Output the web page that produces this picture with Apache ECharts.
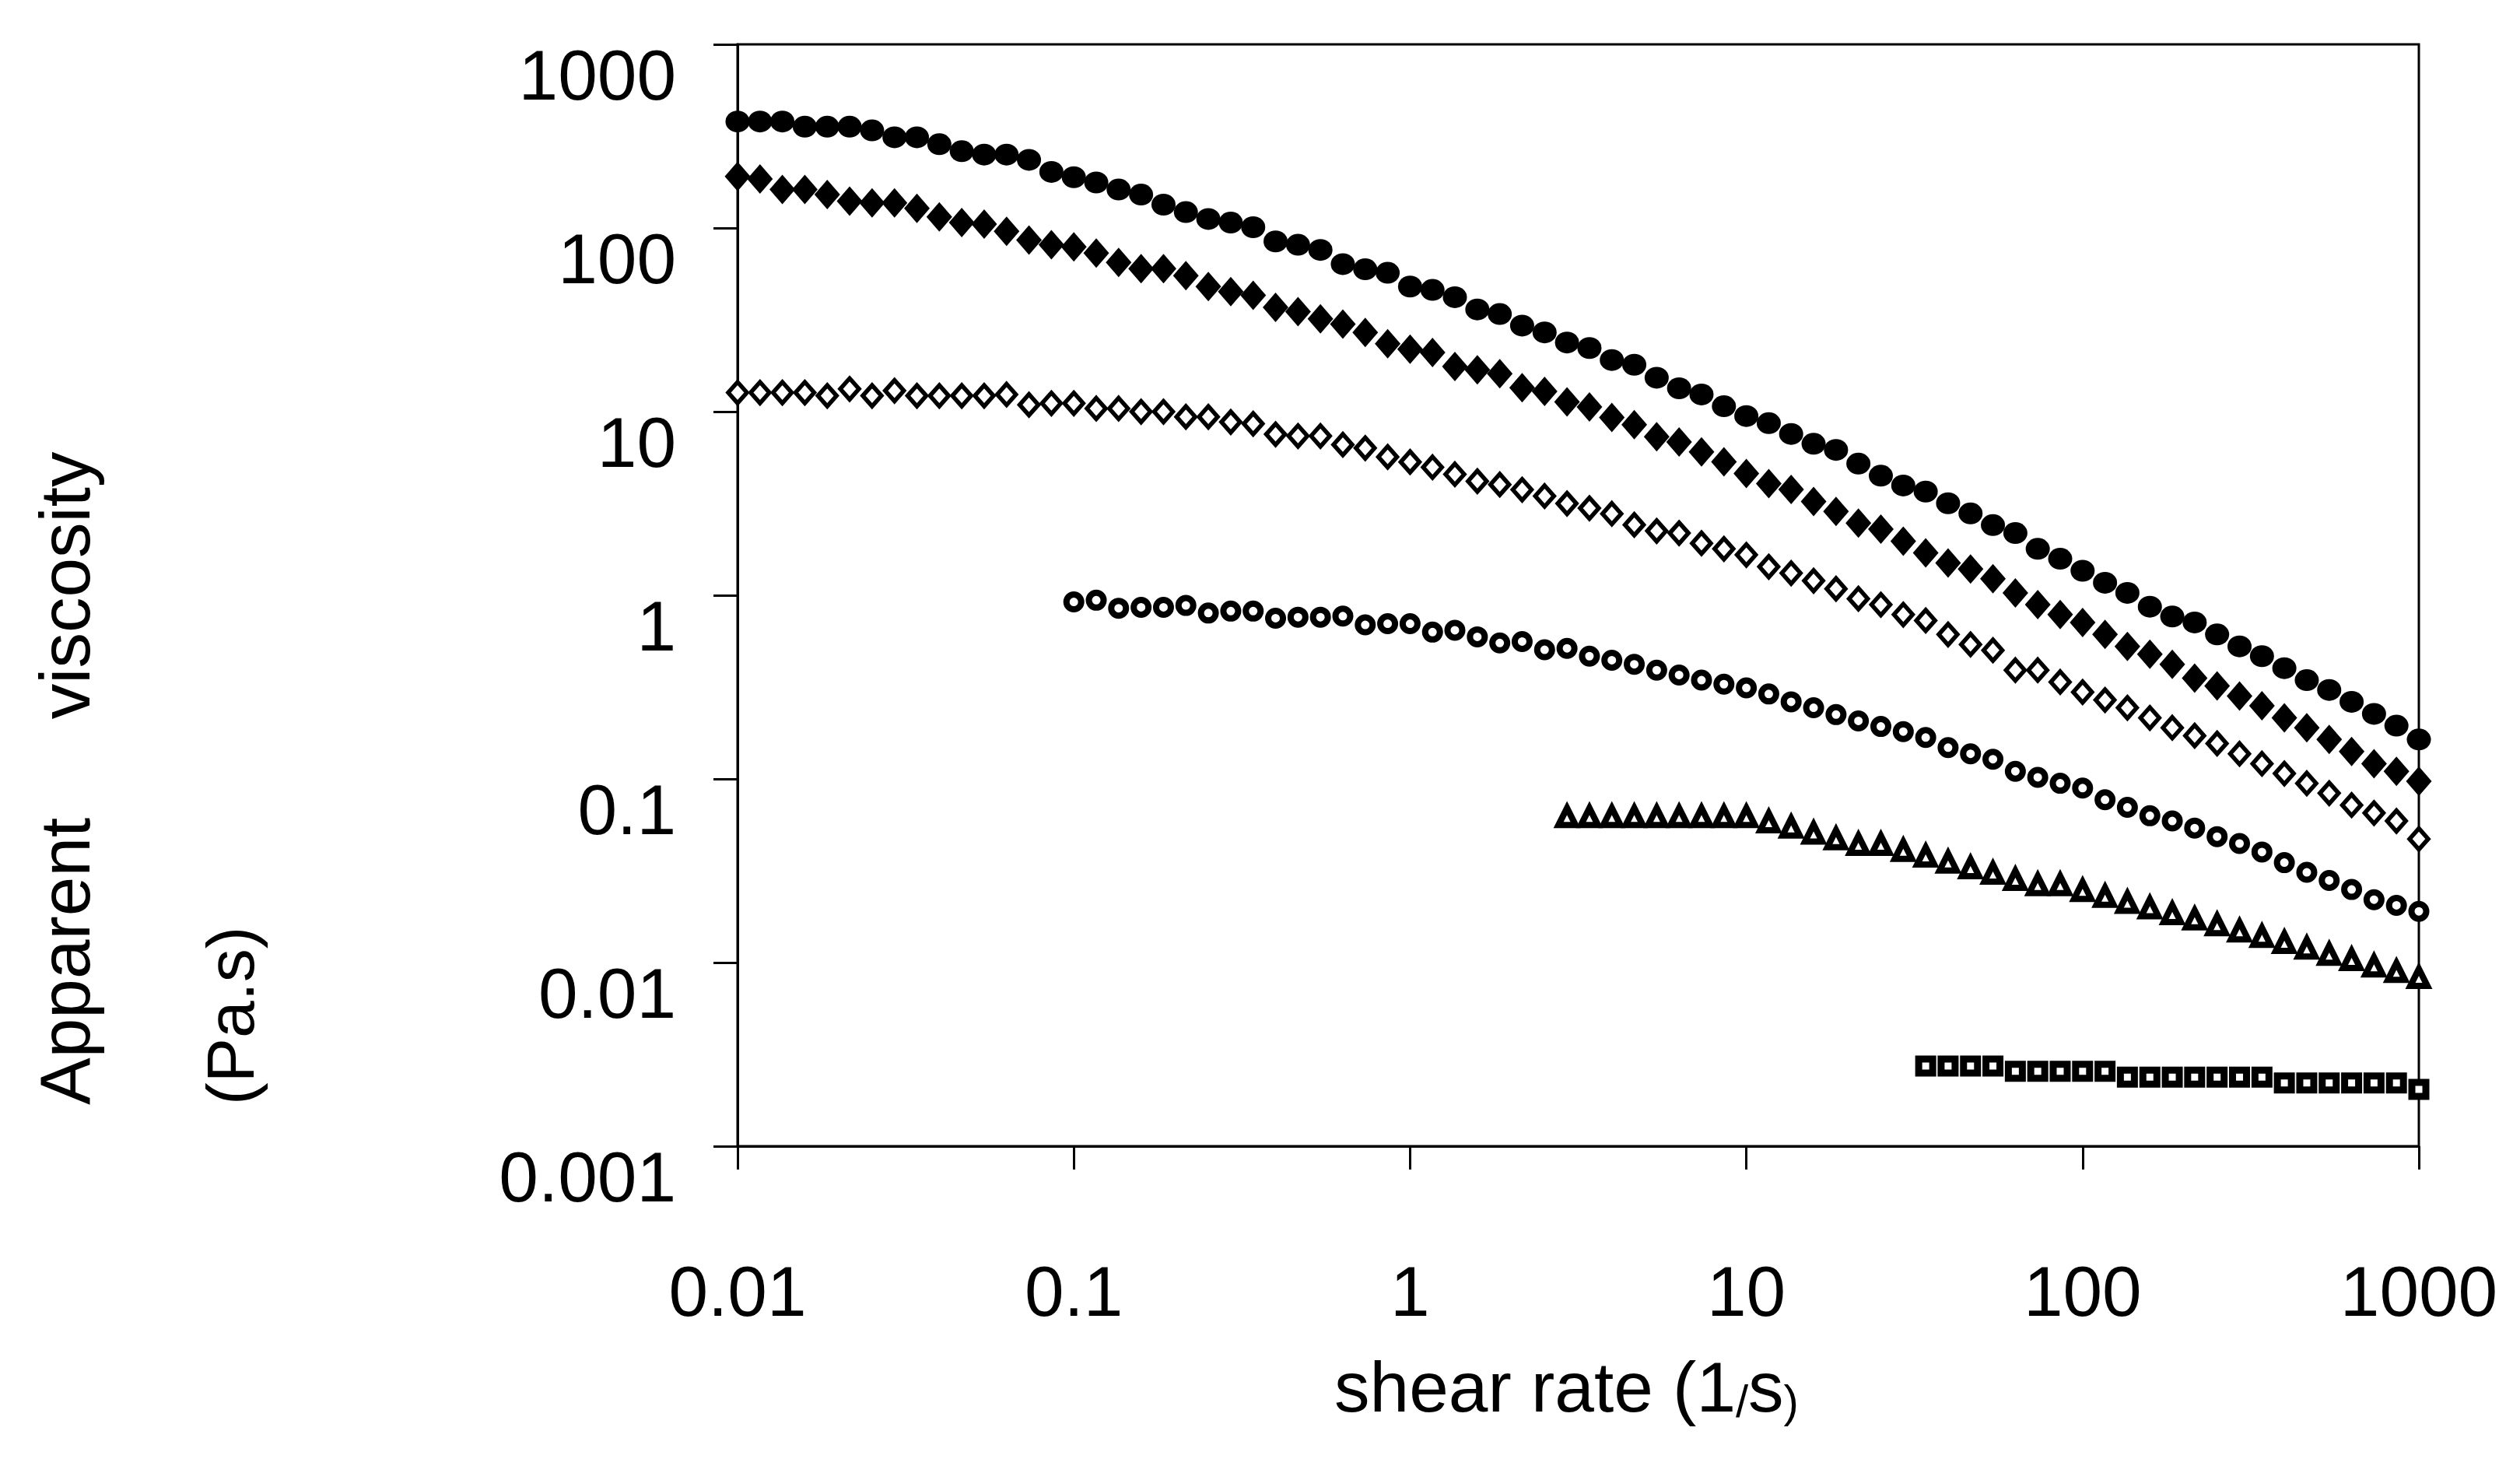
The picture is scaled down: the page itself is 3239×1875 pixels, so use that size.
<!DOCTYPE html>
<html>
<head>
<meta charset="utf-8">
<script src="https://cdn.jsdelivr.net/npm/echarts@6/dist/echarts.min.js"></script>
<style>
html,body{margin:0;padding:0;background:#ffffff;}
#chart{width:3239px;height:1875px;}
</style>
</head>
<body>
<div id="chart"></div>
<script>
// ---- data ----
const shearRate = [
  0.01, 0.01166, 0.01359, 0.01585, 0.01848, 0.02154, 0.02512, 0.02929, 0.03415, 0.03981, 0.04642, 0.05412, 0.0631, 0.07356, 0.08577,
  0.1, 0.1166, 0.1359, 0.1585, 0.1848, 0.2154, 0.2512, 0.2929, 0.3415, 0.3981, 0.4642, 0.5412, 0.631, 0.7356, 0.8577,
  1, 1.166, 1.359, 1.585, 1.848, 2.154, 2.512, 2.929, 3.415, 3.981, 4.642, 5.412, 6.31, 7.356, 8.577,
  10, 11.66, 13.59, 15.85, 18.48, 21.54, 25.12, 29.29, 34.15, 39.81, 46.42, 54.12, 63.1, 73.56, 85.77,
  100, 116.6, 135.9, 158.5, 184.8, 215.4, 251.2, 292.9, 341.5, 398.1, 464.2, 541.2, 631, 735.6, 857.7,
  1000
];

const filledCircles = [
  380, 380, 380, 356, 356, 356, 340, 312, 312, 286, 262, 251, 251, 235, 202,
  189, 177, 162, 152, 134, 122, 112, 107, 101, 84.5, 81, 76, 63.6, 59.6, 57,
  48, 46, 42, 36, 34, 29.4, 27, 23.8, 22.2, 19.1, 18.0, 15.3, 13.4, 12.4, 10.7,
  9.46, 8.65, 7.56, 6.68, 6.19, 5.21, 4.48, 3.96, 3.67, 3.17, 2.79, 2.41, 2.18, 1.79, 1.58,
  1.36, 1.17, 1.03, 0.867, 0.766, 0.711, 0.612, 0.527, 0.466, 0.401, 0.345, 0.305, 0.263, 0.226, 0.195,
  0.164
];

const filledDiamonds = [
  191, 185, 162, 162, 152, 140, 137, 137, 128, 115, 107, 105, 96, 86, 81,
  79, 73, 65, 60, 60, 55, 48, 45, 43, 37, 35, 32, 30, 27, 23.4,
  21.9, 21, 17.6, 16.9, 16.1, 13.5, 12.9, 11.3, 10.6, 9.3, 8.5, 7.3, 6.84, 6.04, 5.33,
  4.60, 4.06, 3.77, 3.24, 2.86, 2.47, 2.29, 1.97, 1.70, 1.50, 1.39, 1.23, 1.03, 0.889, 0.785,
  0.711, 0.612, 0.527, 0.477, 0.421, 0.354, 0.321, 0.283, 0.250, 0.215, 0.190, 0.164, 0.141, 0.121, 0.110,
  0.097
];

const openDiamonds = [
  12.7, 12.7, 12.7, 12.7, 12.2, 13.3, 12.2, 13.0, 12.2, 12.2, 12.2, 12.2, 12.4, 10.9, 11.1,
  11.1, 10.4, 10.4, 10.0, 10.0, 9.37, 9.37, 8.78, 8.59, 7.53, 7.37, 7.37, 6.61, 6.33, 5.67,
  5.32, 4.98, 4.56, 4.18, 4.01, 3.76, 3.47, 3.16, 2.98, 2.78, 2.42, 2.24, 2.18, 1.92, 1.79,
  1.66, 1.43, 1.32, 1.20, 1.085, 0.958, 0.889, 0.785, 0.729, 0.612, 0.540, 0.502, 0.391, 0.391, 0.337,
  0.297, 0.269, 0.244, 0.215, 0.190, 0.172, 0.156, 0.137, 0.121, 0.107, 0.0946, 0.0836, 0.0720, 0.0652, 0.0590,
  0.0471
];

const openCircles = [
  null, null, null, null, null, null, null, null, null, null, null, null, null, null, null,
  0.92, 0.94, 0.85, 0.86, 0.86, 0.88, 0.80, 0.82, 0.82, 0.75, 0.76, 0.76, 0.77, 0.69, 0.70,
  0.70, 0.63, 0.645, 0.594, 0.55, 0.56, 0.505, 0.514, 0.466, 0.443, 0.421, 0.391, 0.368, 0.345, 0.328,
  0.313, 0.290, 0.263, 0.244, 0.224, 0.207, 0.193, 0.181, 0.168, 0.148, 0.137, 0.128, 0.110, 0.102, 0.0947,
  0.0891, 0.077, 0.070, 0.063, 0.059, 0.054, 0.0485, 0.0445, 0.040, 0.035, 0.031, 0.028, 0.025, 0.022, 0.0205,
  0.019
];

const openTriangles = [
  null, null, null, null, null, null, null, null, null, null, null, null, null, null, null,
  null, null, null, null, null, null, null, null, null, null, null, null, null, null, null,
  null, null, null, null, null, null, null, 0.0624, 0.0624, 0.0624, 0.0624, 0.0624, 0.0624, 0.0624, 0.0624,
  0.0624, 0.0585, 0.0548, 0.0508, 0.0473, 0.0441, 0.0441, 0.0409, 0.0381, 0.0353, 0.0329, 0.0307, 0.0284, 0.0266, 0.0266,
  0.0247, 0.0230, 0.0213, 0.0199, 0.0185, 0.0173, 0.0161, 0.0149, 0.0139, 0.0129, 0.0120, 0.0111, 0.0104, 0.0096, 0.00895,
  0.0083
];

const openSquares = [
  null, null, null, null, null, null, null, null, null, null, null, null, null, null, null,
  null, null, null, null, null, null, null, null, null, null, null, null, null, null, null,
  null, null, null, null, null, null, null, null, null, null, null, null, null, null, null,
  null, null, null, null, null, null, null, null, 0.00273, 0.00273, 0.00273, 0.00273, 0.00256, 0.00256, 0.00256,
  0.00256, 0.00256, 0.00238, 0.00238, 0.00238, 0.00238, 0.00238, 0.00238, 0.00238, 0.00221, 0.00221, 0.00221, 0.00221, 0.00221, 0.00221,
  0.00204
];

const xTickLabels = ['0.01', '0.1', '1', '10', '100', '1000'];
const yTickLabels = ['0.001', '0.01', '0.1', '1', '10', '100', '1000'];
const xTitleMain = 'shear rate (1';
const xTitleSlash = '/';
const xTitleUnit = 's';
const xTitleClose = ')';
const yTitleLine1 = 'Apparent     viscosity';
const yTitleLine2 = '(Pa.s)';

// ---- chart ----
const FONT = '"Liberation Sans", Arial, Helvetica, sans-serif';

function toPairs(ys) {
  const out = [];
  ys.forEach(function (y, i) { if (y !== null) out.push([shearRate[i], y]); });
  return out;
}

function markerSeries(name, ys, symbol, size, filled, borderWidth) {
  return {
    name: name,
    type: 'scatter',
    data: toPairs(ys),
    symbol: symbol,
    symbolSize: size,
    clip: false,
    itemStyle: filled
      ? { color: '#000000', borderWidth: 0, opacity: 1 }
      : { color: '#ffffff', borderColor: '#000000', borderWidth: borderWidth, opacity: 1 },
    emphasis: { disabled: true }
  };
}

const chart = echarts.init(document.getElementById('chart'), null, { renderer: 'canvas' });

chart.setOption({
  animation: false,
  backgroundColor: '#ffffff',
  grid: {
    left: 948, right: 130, top: 57, bottom: 402,
    show: true, borderColor: '#000000', borderWidth: 3, backgroundColor: 'transparent'
  },
  xAxis: {
    type: 'log', logBase: 10, min: 0.01, max: 1000, splitNumber: 5,
    axisLine: { show: true, onZero: false, lineStyle: { color: '#000000', width: 3 } },
    axisTick: { show: true, inside: false, length: 30, lineStyle: { color: '#000000', width: 3 } },
    minorTick: { show: false },
    splitLine: { show: false },
    axisLabel: {
      show: true, margin: 147, color: '#000000', fontSize: 91, lineHeight: 91, fontFamily: FONT,
      showMinLabel: true, showMaxLabel: true, hideOverlap: false,
      formatter: function (v) { return xTickLabels[Math.round(Math.log10(v)) + 2]; }
    },
    name: xTitleMain + '{sm|' + xTitleSlash + '}' + xTitleUnit + '{sm|' + xTitleClose + '}',
    nameLocation: 'middle',
    nameGap: 270,
    nameTextStyle: {
      color: '#000000', fontSize: 91, lineHeight: 91, fontFamily: FONT,
      padding: [0, 30, 0, 0],
      rich: {
        sm: { fontSize: 58, lineHeight: 68, verticalAlign: 'bottom', fontFamily: FONT, color: '#000000' }
      }
    }
  },
  yAxis: {
    type: 'log', logBase: 10, min: 0.001, max: 1000, splitNumber: 6,
    axisLine: { show: true, onZero: false, lineStyle: { color: '#000000', width: 3 } },
    axisTick: { show: true, inside: false, length: 31, lineStyle: { color: '#000000', width: 3 } },
    minorTick: { show: false },
    splitLine: { show: false },
    axisLabel: {
      show: true, margin: 79, color: '#000000', fontSize: 91, lineHeight: 91, fontFamily: FONT,
      verticalAlign: 'top',
      showMinLabel: true, showMaxLabel: true, hideOverlap: false,
      formatter: function (v) { return yTickLabels[Math.round(Math.log10(v)) + 3]; }
    }
  },
  graphic: [
    {
      type: 'text', x: 90, y: 1420, rotation: Math.PI / 2, silent: true,
      style: { text: yTitleLine1, fontSize: 91, fontFamily: FONT, fill: '#000000', align: 'left', verticalAlign: 'middle' }
    },
    {
      type: 'text', x: 302, y: 1420, rotation: Math.PI / 2, silent: true,
      style: { text: yTitleLine2, fontSize: 86, fontFamily: FONT, fill: '#000000', align: 'left', verticalAlign: 'middle' }
    }
  ],
  series: [
    markerSeries('filled circles', filledCircles, 'circle', [31, 28], true, 0),
    markerSeries('filled diamonds', filledDiamonds, 'diamond', [33, 38], true, 0),
    markerSeries('open diamonds', openDiamonds, 'diamond', [24, 27], false, 5.5),
    markerSeries('open circles', openCircles, 'circle', 19, false, 8),
    markerSeries('open triangles', openTriangles, 'triangle', [22, 22], false, 8),
    markerSeries('open squares', openSquares, 'rect', 18, false, 9)
  ]
});
</script>
</body>
</html>
